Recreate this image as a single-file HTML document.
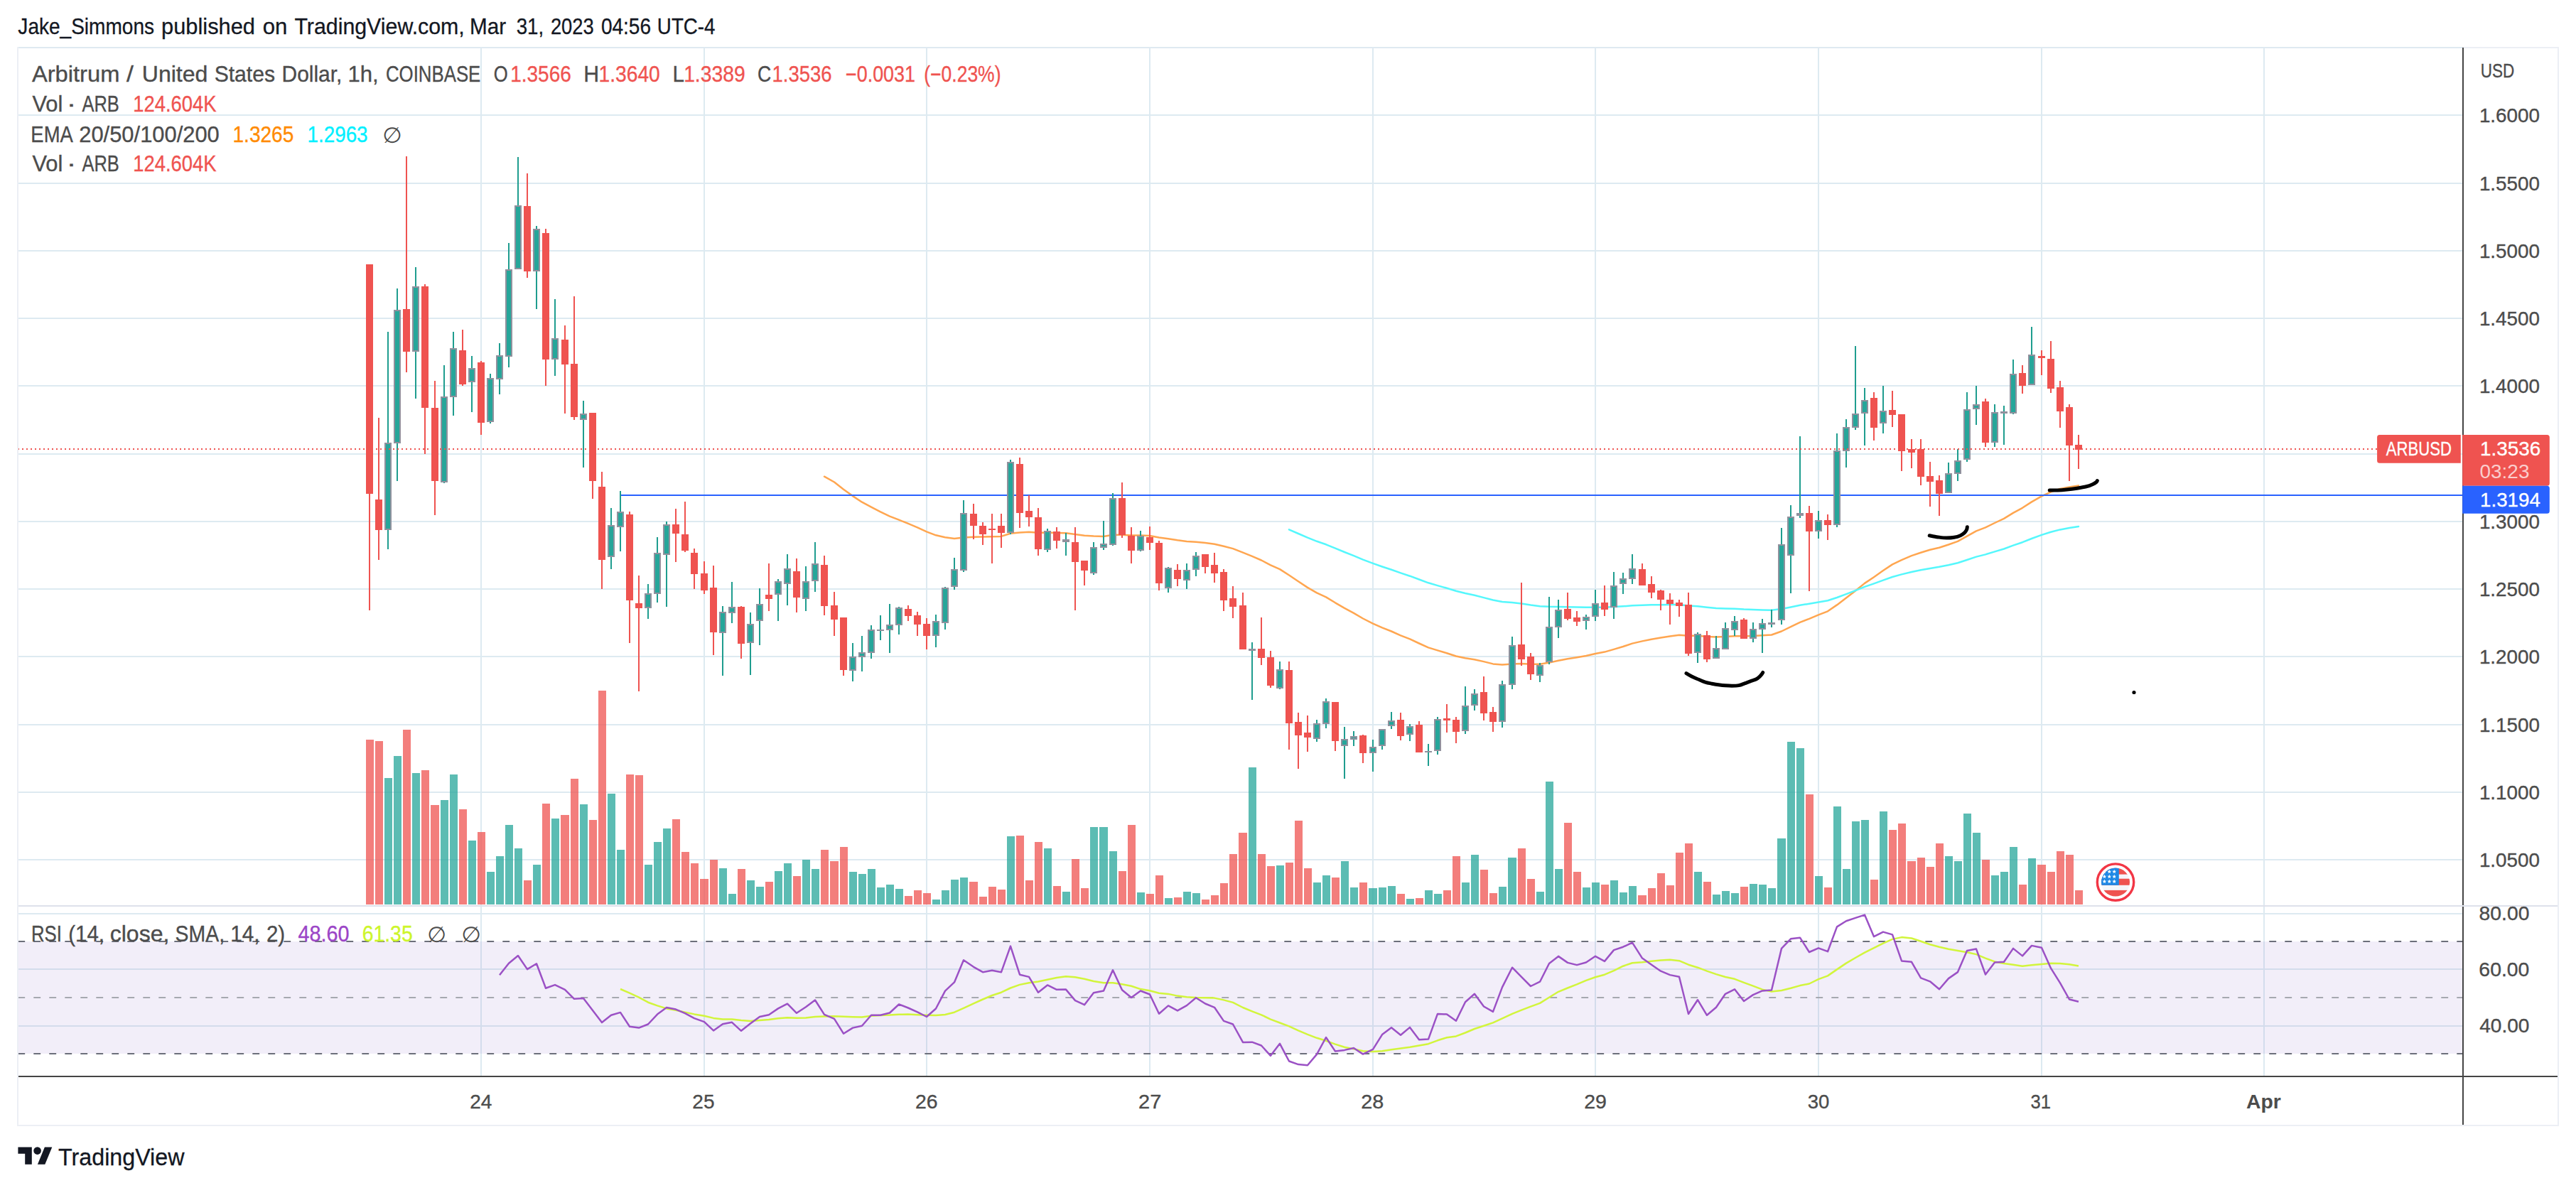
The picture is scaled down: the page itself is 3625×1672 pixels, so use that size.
<!DOCTYPE html>
<html lang="en"><head><meta charset="utf-8"><title>ARBUSD chart</title>
<style>html,body{margin:0;padding:0;background:#fff}body{width:3625px;height:1672px;overflow:hidden}svg{display:block}</style></head><body>
<svg width="3625" height="1672" viewBox="0 0 3625 1672" font-family="'Liberation Sans', 'DejaVu Sans', sans-serif">
<rect width="3625" height="1672" fill="#fff"/>
<rect x="26" y="1325" width="3439" height="158" fill="#f2eef9"/>
<path d="M26 162H3465M26 258H3465M26 353H3465M26 448H3465M26 543H3465M26 639H3465M26 734H3465M26 829H3465M26 924H3465M26 1020H3465M26 1115H3465M26 1210H3465M26 1364H3465M26 1444H3465M26 1286H3465M677 68V1514M991 68V1514M1304 68V1514M1618 68V1514M1932 68V1514M2245 68V1514M2559 68V1514M2873 68V1514M3186 68V1514" stroke="rgba(100,160,190,0.22)" stroke-width="2" fill="none" shape-rendering="crispEdges"/>
<path d="M541 1095H552V1273H541zM554 1064H565V1273H554zM580 1088H591V1273H580zM620 1126H631V1273H620zM633 1090H644V1273H633zM659 1183H670V1273H659zM685 1227H696V1273H685zM698 1205H709V1273H698zM711 1161H722V1273H711zM724 1194H735V1273H724zM750 1217H761V1273H750zM776 1152H787V1273H776zM816 1132H827V1273H816zM855 1117H866V1273H855zM868 1196H879V1273H868zM907 1217H918V1273H907zM920 1185H931V1273H920zM933 1166H944V1273H933zM1012 1222H1023V1273H1012zM1025 1258H1036V1273H1025zM1051 1239H1062V1273H1051zM1064 1248H1075V1273H1064zM1090 1226H1101V1273H1090zM1103 1215H1114V1273H1103zM1129 1210H1140V1273H1129zM1142 1223H1153V1273H1142zM1195 1227H1206V1273H1195zM1208 1230H1219V1273H1208zM1221 1223H1232V1273H1221zM1234 1249H1245V1273H1234zM1247 1245H1258V1273H1247zM1260 1251H1271V1273H1260zM1312 1266H1323V1273H1312zM1325 1253H1336V1273H1325zM1338 1238H1349V1273H1338zM1351 1235H1362V1273H1351zM1417 1177H1428V1273H1417zM1469 1194H1480V1273H1469zM1495 1255H1506V1273H1495zM1534 1164H1545V1273H1534zM1547 1164H1559V1273H1547zM1561 1198H1572V1273H1561zM1600 1256H1611V1273H1600zM1639 1264H1650V1273H1639zM1665 1255H1676V1273H1665zM1678 1257H1689V1273H1678zM1757 1080H1768V1273H1757zM1796 1218H1807V1273H1796zM1848 1242H1859V1273H1848zM1861 1232H1872V1273H1861zM1887 1212H1898V1273H1887zM1900 1249H1911V1273H1900zM1926 1250H1938V1273H1926zM1940 1249H1951V1273H1940zM1953 1247H1964V1273H1953zM1979 1265H1990V1273H1979zM2005 1253H2016V1273H2005zM2018 1258H2029V1273H2018zM2057 1242H2068V1273H2057zM2070 1203H2081V1273H2070zM2109 1248H2120V1273H2109zM2122 1207H2134V1273H2122zM2162 1255H2173V1273H2162zM2175 1100H2186V1273H2175zM2188 1223H2199V1273H2188zM2227 1249H2238V1273H2227zM2240 1242H2251V1273H2240zM2266 1239H2277V1273H2266zM2279 1256H2290V1273H2279zM2292 1247H2303V1273H2292zM2384 1227H2395V1273H2384zM2410 1259H2421V1273H2410zM2423 1254H2434V1273H2423zM2436 1257H2447V1273H2436zM2462 1244H2473V1273H2462zM2475 1245H2486V1273H2475zM2488 1250H2499V1273H2488zM2501 1180H2513V1273H2501zM2515 1044H2526V1273H2515zM2528 1053H2539V1273H2528zM2554 1233H2565V1273H2554zM2580 1135H2591V1273H2580zM2593 1223H2604V1273H2593zM2606 1156H2617V1273H2606zM2619 1154H2630V1273H2619zM2645 1142H2656V1273H2645zM2737 1205H2748V1273H2737zM2750 1212H2761V1273H2750zM2763 1145H2774V1273H2763zM2776 1172H2787V1273H2776zM2802 1232H2813V1273H2802zM2815 1227H2826V1273H2815zM2828 1192H2839V1273H2828zM2854 1208H2865V1273H2854z" fill="rgba(38,166,154,0.75)" shape-rendering="crispEdges"/>
<path d="M515 1041H526V1273H515zM528 1043H539V1273H528zM567 1027H578V1273H567zM593 1084H604V1273H593zM606 1133H618V1273H606zM646 1139H657V1273H646zM672 1171H683V1273H672zM737 1239H748V1273H737zM763 1131H774V1273H763zM789 1147H801V1273H789zM803 1096H814V1273H803zM829 1154H840V1273H829zM842 972H853V1273H842zM881 1090H892V1273H881zM894 1091H905V1273H894zM946 1153H957V1273H946zM959 1199H970V1273H959zM972 1215H983V1273H972zM985 1237H997V1273H985zM999 1210H1010V1273H999zM1038 1223H1049V1273H1038zM1077 1241H1088V1273H1077zM1116 1233H1127V1273H1116zM1155 1196H1166V1273H1155zM1168 1212H1180V1273H1168zM1182 1192H1193V1273H1182zM1273 1261H1284V1273H1273zM1286 1253H1297V1273H1286zM1299 1257H1310V1273H1299zM1364 1241H1376V1273H1364zM1378 1262H1389V1273H1378zM1391 1248H1402V1273H1391zM1404 1252H1415V1273H1404zM1430 1176H1441V1273H1430zM1443 1239H1454V1273H1443zM1456 1185H1467V1273H1456zM1482 1247H1493V1273H1482zM1508 1209H1519V1273H1508zM1521 1250H1532V1273H1521zM1574 1226H1585V1273H1574zM1587 1161H1598V1273H1587zM1613 1258H1624V1273H1613zM1626 1232H1637V1273H1626zM1652 1263H1663V1273H1652zM1691 1266H1702V1273H1691zM1704 1260H1715V1273H1704zM1717 1243H1728V1273H1717zM1730 1202H1741V1273H1730zM1743 1172H1755V1273H1743zM1770 1202H1781V1273H1770zM1783 1219H1794V1273H1783zM1809 1214H1820V1273H1809zM1822 1155H1833V1273H1822zM1835 1222H1846V1273H1835zM1874 1235H1885V1273H1874zM1913 1242H1924V1273H1913zM1966 1258H1977V1273H1966zM1992 1264H2003V1273H1992zM2031 1253H2042V1273H2031zM2044 1205H2055V1273H2044zM2083 1224H2094V1273H2083zM2096 1257H2107V1273H2096zM2136 1194H2147V1273H2136zM2149 1237H2160V1273H2149zM2201 1158H2212V1273H2201zM2214 1227H2225V1273H2214zM2253 1245H2264V1273H2253zM2305 1260H2317V1273H2305zM2319 1250H2330V1273H2319zM2332 1229H2343V1273H2332zM2345 1246H2356V1273H2345zM2358 1200H2369V1273H2358zM2371 1187H2382V1273H2371zM2397 1241H2408V1273H2397zM2449 1248H2460V1273H2449zM2541 1118H2552V1273H2541zM2567 1249H2578V1273H2567zM2632 1238H2643V1273H2632zM2658 1168H2669V1273H2658zM2671 1159H2682V1273H2671zM2684 1212H2696V1273H2684zM2698 1207H2709V1273H2698zM2711 1220H2722V1273H2711zM2724 1187H2735V1273H2724zM2789 1210H2800V1273H2789zM2841 1245H2852V1273H2841zM2867 1217H2879V1273H2867zM2881 1227H2892V1273H2881zM2894 1198H2905V1273H2894zM2907 1203H2918V1273H2907zM2920 1253H2931V1273H2920z" fill="rgba(239,83,80,0.75)" shape-rendering="crispEdges"/>
<path d="M1160.0 670.7L1174.0 678.5L1187.0 688.8L1200.0 698.1L1213.0 706.7L1226.0 713.7L1239.0 720.4L1252.0 726.6L1265.0 731.7L1278.0 736.9L1291.0 742.4L1304.0 748.4L1317.0 753.3L1330.0 756.2L1343.0 757.9L1356.0 756.5L1370.0 755.8L1383.0 755.6L1396.0 755.2L1409.0 754.9L1422.0 750.8L1435.0 749.6L1448.0 748.8L1461.0 749.7L1474.0 749.6L1487.0 750.0L1500.0 750.3L1513.0 751.9L1526.0 753.8L1539.0 754.5L1553.0 754.9L1566.0 752.7L1579.0 752.7L1592.0 753.5L1605.0 753.5L1618.0 753.9L1631.0 756.5L1644.0 758.2L1657.0 760.3L1670.0 761.9L1683.0 762.7L1696.0 764.1L1709.0 765.7L1722.0 768.8L1735.0 772.1L1749.0 777.6L1762.0 782.9L1775.0 788.5L1788.0 795.3L1801.0 801.1L1814.0 809.5L1827.0 818.3L1840.0 826.9L1853.0 834.4L1866.0 840.4L1879.0 848.3L1892.0 855.8L1905.0 862.8L1918.0 870.5L1932.0 877.6L1945.0 883.4L1958.0 888.5L1971.0 894.3L1984.0 899.3L1997.0 905.5L2010.0 911.4L2023.0 915.4L2036.0 919.2L2049.0 923.5L2062.0 926.2L2075.0 928.2L2088.0 931.1L2101.0 934.4L2114.0 935.5L2128.0 934.4L2141.0 934.1L2154.0 934.7L2167.0 934.7L2180.0 932.6L2193.0 929.7L2206.0 927.3L2219.0 925.2L2232.0 923.0L2245.0 920.0L2258.0 917.6L2271.0 913.9L2284.0 910.0L2297.0 905.6L2311.0 902.4L2324.0 899.7L2337.0 897.5L2350.0 895.6L2363.0 893.8L2376.0 894.8L2389.0 894.7L2402.0 896.0L2415.0 896.6L2428.0 896.1L2441.0 895.2L2454.0 895.3L2467.0 894.9L2480.0 894.2L2493.0 893.5L2507.0 888.5L2520.0 882.1L2533.0 875.8L2546.0 870.8L2559.0 865.3L2572.0 860.3L2585.0 851.4L2598.0 841.6L2611.0 831.4L2624.0 820.9L2637.0 812.2L2650.0 803.1L2663.0 794.4L2676.0 788.1L2690.0 782.1L2703.0 777.7L2716.0 773.8L2729.0 770.7L2742.0 766.5L2755.0 761.9L2768.0 754.6L2781.0 747.3L2794.0 742.4L2807.0 736.0L2820.0 729.9L2833.0 721.9L2846.0 714.8L2859.0 706.4L2873.0 698.4L2886.0 692.4L2899.0 687.9L2912.0 685.5L2925.0 683.4" stroke="#ffa650" stroke-width="2.5" fill="none" stroke-linecap="round" stroke-linejoin="round"/>
<path d="M1814.0 745.3L1827.0 751.0L1840.0 756.7L1853.0 761.8L1866.0 766.3L1879.0 771.7L1892.0 777.0L1905.0 782.2L1918.0 787.7L1932.0 792.9L1945.0 797.5L1958.0 801.8L1971.0 806.4L1984.0 810.7L1997.0 815.5L2010.0 820.3L2023.0 824.1L2036.0 827.8L2049.0 831.8L2062.0 835.0L2075.0 837.8L2088.0 841.1L2101.0 844.5L2114.0 846.9L2128.0 848.1L2141.0 849.6L2154.0 851.6L2167.0 853.2L2180.0 853.8L2193.0 853.9L2206.0 854.2L2219.0 854.6L2232.0 854.8L2245.0 854.7L2258.0 854.8L2271.0 854.1L2284.0 853.3L2297.0 852.3L2311.0 851.7L2324.0 851.3L2337.0 851.2L2350.0 851.1L2363.0 851.1L2376.0 852.5L2389.0 853.3L2402.0 854.7L2415.0 855.9L2428.0 856.4L2441.0 856.7L2454.0 857.6L2467.0 858.1L2480.0 858.5L2493.0 858.8L2507.0 857.0L2520.0 854.4L2533.0 851.8L2546.0 849.7L2559.0 847.4L2572.0 845.2L2585.0 841.0L2598.0 836.2L2611.0 831.2L2624.0 825.9L2637.0 821.4L2650.0 816.6L2663.0 812.0L2676.0 808.4L2690.0 805.0L2703.0 802.3L2716.0 799.9L2729.0 797.8L2742.0 795.2L2755.0 792.2L2768.0 788.0L2781.0 783.6L2794.0 780.4L2807.0 776.4L2820.0 772.5L2833.0 767.7L2846.0 763.2L2859.0 758.0L2873.0 752.9L2886.0 748.8L2899.0 745.4L2912.0 743.1L2925.0 740.9" stroke="#55f7fc" stroke-width="2.5" fill="none" stroke-linecap="round" stroke-linejoin="round"/>
<path d="M873 697H3466" stroke="#2962ff" stroke-width="2" shape-rendering="crispEdges"/>
<path d="M545 467h2V773h-2zM558 406h2V677h-2zM584 376h2V561h-2zM624 514h2V680h-2zM637 467h2V585h-2zM663 501h2V580h-2zM689 526h2V596h-2zM702 483h2V555h-2zM715 342h2V517h-2zM728 221h2V379h-2zM754 318h2V435h-2zM780 421h2V529h-2zM820 564h2V658h-2zM859 715h2V801h-2zM872 691h2V776h-2zM911 822h2V871h-2zM924 756h2V848h-2zM937 734h2V854h-2zM1016 853h2V951h-2zM1029 819h2V877h-2zM1055 862h2V950h-2zM1068 828h2V908h-2zM1094 815h2V874h-2zM1107 780h2V852h-2zM1133 797h2V860h-2zM1146 763h2V833h-2zM1199 905h2V959h-2zM1212 895h2V945h-2zM1225 880h2V927h-2zM1238 866h2V901h-2zM1251 850h2V919h-2zM1264 854h2V893h-2zM1316 865h2V911h-2zM1329 826h2V886h-2zM1342 785h2V830h-2zM1355 704h2V805h-2zM1421 647h2V752h-2zM1473 744h2V777h-2zM1499 750h2V782h-2zM1538 763h2V809h-2zM1552 733h2V774h-2zM1565 694h2V768h-2zM1604 747h2V776h-2zM1643 798h2V834h-2zM1669 793h2V829h-2zM1682 777h2V811h-2zM1761 904h2V985h-2zM1800 931h2V970h-2zM1852 1013h2V1044h-2zM1865 983h2V1025h-2zM1891 1023h2V1096h-2zM1904 1029h2V1050h-2zM1931 1041h2V1086h-2zM1944 1026h2V1055h-2zM1957 1002h2V1026h-2zM1983 1019h2V1043h-2zM2009 1047h2V1078h-2zM2022 1009h2V1062h-2zM2061 966h2V1033h-2zM2074 970h2V1000h-2zM2113 958h2V1024h-2zM2127 896h2V970h-2zM2166 933h2V960h-2zM2179 840h2V935h-2zM2192 844h2V898h-2zM2231 865h2V886h-2zM2244 830h2V874h-2zM2270 805h2V871h-2zM2283 806h2V836h-2zM2296 780h2V822h-2zM2388 890h2V933h-2zM2414 895h2V927h-2zM2427 876h2V914h-2zM2440 867h2V895h-2zM2466 876h2V904h-2zM2479 871h2V919h-2zM2492 858h2V883h-2zM2506 743h2V879h-2zM2519 711h2V835h-2zM2532 614h2V729h-2zM2558 719h2V758h-2zM2584 610h2V742h-2zM2597 590h2V658h-2zM2610 487h2V605h-2zM2623 546h2V627h-2zM2649 543h2V610h-2zM2741 651h2V694h-2zM2754 632h2V677h-2zM2767 552h2V650h-2zM2780 543h2V598h-2zM2806 569h2V629h-2zM2819 571h2V626h-2zM2832 506h2V583h-2zM2858 460h2V542h-2z" fill="#1f9d8f" shape-rendering="crispEdges"/>
<path d="M519 372h2V859h-2zM532 588h2V788h-2zM571 220h2V524h-2zM597 400h2V639h-2zM611 536h2V725h-2zM650 464h2V543h-2zM676 508h2V612h-2zM741 244h2V391h-2zM767 322h2V543h-2zM794 458h2V582h-2zM807 417h2V591h-2zM833 581h2V702h-2zM846 664h2V829h-2zM885 720h2V905h-2zM898 810h2V973h-2zM950 716h2V791h-2zM963 706h2V777h-2zM976 772h2V829h-2zM990 790h2V836h-2zM1003 796h2V922h-2zM1042 853h2V927h-2zM1081 793h2V860h-2zM1120 786h2V862h-2zM1159 782h2V866h-2zM1173 833h2V895h-2zM1186 869h2V951h-2zM1277 852h2V874h-2zM1290 861h2V895h-2zM1303 870h2V914h-2zM1369 709h2V759h-2zM1382 735h2V767h-2zM1395 723h2V793h-2zM1408 723h2V771h-2zM1434 644h2V743h-2zM1447 697h2V741h-2zM1460 715h2V782h-2zM1486 742h2V772h-2zM1512 742h2V859h-2zM1525 789h2V824h-2zM1578 679h2V757h-2zM1591 742h2V793h-2zM1617 741h2V774h-2zM1630 761h2V831h-2zM1656 794h2V825h-2zM1695 780h2V807h-2zM1708 778h2V820h-2zM1721 801h2V860h-2zM1734 825h2V870h-2zM1748 834h2V914h-2zM1774 869h2V936h-2zM1787 916h2V968h-2zM1813 931h2V1055h-2zM1826 1003h2V1082h-2zM1839 1007h2V1058h-2zM1878 988h2V1057h-2zM1917 1034h2V1074h-2zM1970 1003h2V1042h-2zM1996 1015h2V1059h-2zM2035 991h2V1031h-2zM2048 1009h2V1046h-2zM2087 952h2V1014h-2zM2100 995h2V1030h-2zM2140 820h2V937h-2zM2153 919h2V957h-2zM2205 834h2V873h-2zM2218 860h2V881h-2zM2257 824h2V867h-2zM2310 793h2V824h-2zM2323 811h2V842h-2zM2336 830h2V859h-2zM2349 835h2V879h-2zM2362 844h2V868h-2zM2375 834h2V923h-2zM2401 888h2V932h-2zM2453 870h2V899h-2zM2545 712h2V832h-2zM2571 724h2V760h-2zM2636 552h2V620h-2zM2662 550h2V601h-2zM2675 583h2V663h-2zM2689 618h2V659h-2zM2702 618h2V683h-2zM2715 650h2V713h-2zM2728 669h2V726h-2zM2793 561h2V629h-2zM2845 514h2V554h-2zM2872 493h2V528h-2zM2885 480h2V553h-2zM2898 536h2V602h-2zM2911 569h2V677h-2zM2924 612h2V660h-2z" fill="#ef5350" shape-rendering="crispEdges"/>
<path d="M515 372h10V695h-10zM528 703h10V746h-10zM567 435h10V495h-10zM593 403h10V574h-10zM607 574h10V677h-10zM646 493h10V541h-10zM672 510h10V595h-10zM737 290h10V382h-10zM763 328h10V506h-10zM790 478h10V513h-10zM803 512h10V587h-10zM829 581h10V677h-10zM842 685h10V788h-10zM881 724h10V845h-10zM894 849h10V856h-10zM946 738h10V751h-10zM959 752h10V775h-10zM972 778h10V808h-10zM986 807h10V831h-10zM999 827h10V890h-10zM1038 854h10V906h-10zM1077 837h10V843h-10zM1116 804h10V841h-10zM1155 795h10V853h-10zM1169 852h10V872h-10zM1182 869h10V943h-10zM1273 857h10V867h-10zM1286 866h10V879h-10zM1299 878h10V895h-10zM1365 723h10V740h-10zM1378 740h10V752h-10zM1391 744h10V746h-10zM1404 740h10V750h-10zM1430 653h10V722h-10zM1443 719h10V728h-10zM1456 728h10V773h-10zM1482 748h10V761h-10zM1508 763h10V791h-10zM1521 789h10V803h-10zM1574 701h10V753h-10zM1587 754h10V775h-10zM1613 756h10V764h-10zM1626 764h10V821h-10zM1652 802h10V815h-10zM1691 780h10V798h-10zM1704 795h10V807h-10zM1717 805h10V845h-10zM1730 842h10V854h-10zM1744 852h10V914h-10zM1770 913h10V926h-10zM1783 925h10V965h-10zM1809 943h10V1018h-10zM1822 1016h10V1035h-10zM1835 1031h10V1038h-10zM1874 988h10V1043h-10zM1913 1035h10V1060h-10zM1966 1013h10V1036h-10zM1992 1020h10V1059h-10zM2031 1011h10V1014h-10zM2044 1013h10V1030h-10zM2083 974h10V1004h-10zM2096 1002h10V1016h-10zM2136 907h10V928h-10zM2149 924h10V949h-10zM2201 857h10V871h-10zM2214 869h10V875h-10zM2253 848h10V858h-10zM2306 801h10V824h-10zM2319 822h10V834h-10zM2332 831h10V844h-10zM2345 844h10V850h-10zM2358 848h10V853h-10zM2371 851h10V920h-10zM2397 894h10V928h-10zM2449 872h10V899h-10zM2541 722h10V748h-10zM2567 732h10V739h-10zM2632 560h10V602h-10zM2658 577h10V584h-10zM2671 583h10V635h-10zM2685 632h10V637h-10zM2698 632h10V671h-10zM2711 670h10V678h-10zM2724 676h10V695h-10zM2789 565h10V623h-10zM2841 525h10V543h-10zM2868 501h10V504h-10zM2881 505h10V547h-10zM2894 545h10V579h-10zM2907 573h10V627h-10zM2920 626h10V633h-10z" fill="#ef5350" shape-rendering="crispEdges"/>
<path d="M541 623h10V746h-10zM554 436h10V624h-10zM580 403h10V495h-10zM620 558h10V679h-10zM633 490h10V559h-10zM659 518h10V538h-10zM685 532h10V594h-10zM698 500h10V534h-10zM711 379h10V502h-10zM724 289h10V379h-10zM750 322h10V382h-10zM776 476h10V506h-10zM816 582h10V591h-10zM855 739h10V784h-10zM868 720h10V742h-10zM907 835h10V856h-10zM920 778h10V836h-10zM933 738h10V781h-10zM1012 861h10V891h-10zM1025 854h10V863h-10zM1051 878h10V905h-10zM1064 850h10V874h-10zM1090 818h10V837h-10zM1103 800h10V822h-10zM1129 818h10V843h-10zM1142 793h10V818h-10zM1195 924h10V944h-10zM1208 918h10V925h-10zM1221 886h10V919h-10zM1234 886h10V888h-10zM1247 879h10V887h-10zM1260 855h10V880h-10zM1312 874h10V895h-10zM1325 827h10V877h-10zM1338 801h10V826h-10zM1351 722h10V803h-10zM1417 650h10V750h-10zM1469 747h10V774h-10zM1495 759h10V763h-10zM1534 770h10V807h-10zM1548 765h10V771h-10zM1561 701h10V767h-10zM1600 754h10V775h-10zM1639 799h10V828h-10zM1665 802h10V817h-10zM1678 782h10V802h-10zM1757 913h10V916h-10zM1796 942h10V969h-10zM1848 1018h10V1040h-10zM1861 987h10V1019h-10zM1887 1040h10V1050h-10zM1900 1036h10V1041h-10zM1927 1051h10V1060h-10zM1940 1026h10V1050h-10zM1953 1014h10V1022h-10zM1979 1022h10V1034h-10zM2005 1057h10V1059h-10zM2018 1012h10V1057h-10zM2057 993h10V1029h-10zM2070 976h10V993h-10zM2109 963h10V1016h-10zM2123 908h10V964h-10zM2162 936h10V951h-10zM2175 882h10V932h-10zM2188 858h10V883h-10zM2227 868h10V874h-10zM2240 849h10V868h-10zM2266 824h10V855h-10zM2279 814h10V822h-10zM2292 800h10V815h-10zM2384 892h10V919h-10zM2410 912h10V927h-10zM2423 884h10V914h-10zM2436 874h10V887h-10zM2462 885h10V899h-10zM2475 877h10V886h-10zM2488 876h10V879h-10zM2502 766h10V873h-10zM2515 727h10V782h-10zM2528 722h10V726h-10zM2554 732h10V748h-10zM2580 634h10V739h-10zM2593 601h10V635h-10zM2606 582h10V602h-10zM2619 563h10V582h-10zM2645 578h10V596h-10zM2737 666h10V694h-10zM2750 648h10V667h-10zM2763 576h10V647h-10zM2776 569h10V576h-10zM2802 580h10V623h-10zM2815 579h10V582h-10zM2828 526h10V582h-10zM2854 499h10V542h-10z" fill="#90919d" shape-rendering="crispEdges"/>
<path d="M543 625h6V744h-6zM556 438h6V622h-6zM582 405h6V493h-6zM622 560h6V677h-6zM635 492h6V557h-6zM661 520h6V536h-6zM687 534h6V592h-6zM700 502h6V532h-6zM713 381h6V500h-6zM726 291h6V377h-6zM752 324h6V380h-6zM778 478h6V504h-6zM818 584h6V589h-6zM857 741h6V782h-6zM870 722h6V740h-6zM909 837h6V854h-6zM922 780h6V834h-6zM935 740h6V779h-6zM1014 863h6V889h-6zM1027 856h6V861h-6zM1053 880h6V903h-6zM1066 852h6V872h-6zM1092 820h6V835h-6zM1105 802h6V820h-6zM1131 820h6V841h-6zM1144 795h6V816h-6zM1197 926h6V942h-6zM1210 920h6V923h-6zM1223 888h6V917h-6zM1249 881h6V885h-6zM1262 857h6V878h-6zM1314 876h6V893h-6zM1327 829h6V875h-6zM1340 803h6V824h-6zM1353 724h6V801h-6zM1419 652h6V748h-6zM1471 749h6V772h-6zM1536 772h6V805h-6zM1550 767h6V769h-6zM1563 703h6V765h-6zM1602 756h6V773h-6zM1641 801h6V826h-6zM1667 804h6V815h-6zM1680 784h6V800h-6zM1798 944h6V967h-6zM1850 1020h6V1038h-6zM1863 989h6V1017h-6zM1889 1042h6V1048h-6zM1902 1038h6V1039h-6zM1929 1053h6V1058h-6zM1942 1028h6V1048h-6zM1955 1016h6V1020h-6zM1981 1024h6V1032h-6zM2020 1014h6V1055h-6zM2059 995h6V1027h-6zM2072 978h6V991h-6zM2111 965h6V1014h-6zM2125 910h6V962h-6zM2164 938h6V949h-6zM2177 884h6V930h-6zM2190 860h6V881h-6zM2229 870h6V872h-6zM2242 851h6V866h-6zM2268 826h6V853h-6zM2281 816h6V820h-6zM2294 802h6V813h-6zM2386 894h6V917h-6zM2412 914h6V925h-6zM2425 886h6V912h-6zM2438 876h6V885h-6zM2464 887h6V897h-6zM2477 879h6V884h-6zM2504 768h6V871h-6zM2517 729h6V780h-6zM2556 734h6V746h-6zM2582 636h6V737h-6zM2595 603h6V633h-6zM2608 584h6V600h-6zM2621 565h6V580h-6zM2647 580h6V594h-6zM2739 668h6V692h-6zM2752 650h6V665h-6zM2765 578h6V645h-6zM2778 571h6V574h-6zM2804 582h6V621h-6zM2830 528h6V580h-6zM2856 501h6V540h-6z" fill="#26a69a" shape-rendering="crispEdges"/>
<path d="M25 632H3345" stroke="#ef5350" stroke-width="2" stroke-dasharray="2 4" fill="none" shape-rendering="crispEdges"/>
<path d="M2373.0 947.6C2374.3 948.4 2378.2 950.8 2381.1 952.3C2384.0 953.8 2387.3 955.0 2390.4 956.3C2393.5 957.6 2396.6 959.1 2399.7 960.1C2402.8 961.1 2405.9 961.6 2409.0 962.2C2412.1 962.8 2415.2 963.4 2418.3 963.8C2421.4 964.2 2424.5 964.6 2427.6 964.8C2430.7 965.0 2433.8 965.2 2437.0 965.2C2440.2 965.2 2443.8 965.2 2446.9 964.6C2450.0 964.0 2452.6 962.7 2455.6 961.6C2458.6 960.5 2462.3 959.1 2464.9 958.2C2467.5 957.3 2469.2 957.0 2471.1 956.0C2473.0 955.0 2474.8 953.5 2476.1 952.3C2477.4 951.1 2478.4 949.9 2479.2 948.9C2480.0 947.9 2480.4 946.8 2480.7 946.4" stroke="#000" stroke-width="5" fill="none" stroke-linecap="round" stroke-linejoin="round"/>
<path d="M2715.2 753.7C2717.2 754.1 2723.2 755.4 2727.2 755.9C2731.2 756.4 2735.3 757.0 2739.1 757.0C2742.9 757.0 2746.7 756.8 2750.0 756.2C2753.3 755.7 2756.2 754.8 2758.7 753.7C2761.1 752.6 2763.2 751.1 2764.7 749.7C2766.2 748.3 2767.0 746.6 2767.6 745.3C2768.2 744.0 2768.2 742.3 2768.3 741.7" stroke="#000" stroke-width="5" fill="none" stroke-linecap="round" stroke-linejoin="round"/>
<path d="M2884.2 689.9C2886.1 689.9 2891.6 690.2 2895.7 690.1C2899.8 690.0 2904.2 689.6 2908.7 689.1C2913.2 688.6 2918.3 687.9 2922.8 687.2C2927.3 686.5 2932.3 685.7 2935.9 684.8C2939.5 683.9 2942.2 682.8 2944.6 681.7C2946.9 680.7 2948.9 679.4 2950.0 678.5C2951.1 677.6 2951.1 676.9 2951.3 676.6" stroke="#000" stroke-width="5" fill="none" stroke-linecap="round" stroke-linejoin="round"/>
<circle cx="3003" cy="974.5" r="2.6" fill="#000"/>
<path d="M25.3 1325H3465" stroke="#6c6f7b" stroke-width="2" stroke-dasharray="9.85 12.15" fill="none"/>
<path d="M25.3 1483H3465" stroke="#6c6f7b" stroke-width="2" stroke-dasharray="9.85 12.15" fill="none"/>
<path d="M25.3 1404H3465" stroke="#a6a8b0" stroke-width="2" stroke-dasharray="9.85 12.15" fill="none"/>
<path d="M873.0 1392.0L886.0 1397.7L899.0 1403.6L912.0 1410.7L925.0 1415.4L938.0 1419.4L951.0 1421.7L964.0 1424.6L977.0 1427.4L991.0 1429.8L1004.0 1432.9L1017.0 1434.4L1030.0 1434.5L1043.0 1436.1L1056.0 1437.1L1069.0 1436.1L1082.0 1434.9L1095.0 1433.3L1108.0 1432.3L1121.0 1432.8L1134.0 1432.5L1147.0 1431.1L1160.0 1430.6L1174.0 1430.3L1187.0 1430.7L1200.0 1431.2L1213.0 1431.6L1226.0 1429.7L1239.0 1429.1L1252.0 1428.6L1265.0 1427.7L1278.0 1427.6L1291.0 1428.3L1304.0 1428.8L1317.0 1429.1L1330.0 1428.0L1343.0 1424.7L1356.0 1418.9L1370.0 1412.4L1383.0 1406.5L1396.0 1401.0L1409.0 1396.7L1422.0 1390.5L1435.0 1385.9L1448.0 1383.2L1461.0 1381.5L1474.0 1378.7L1487.0 1376.0L1500.0 1374.2L1513.0 1375.2L1526.0 1377.7L1539.0 1381.0L1553.0 1383.3L1566.0 1383.2L1579.0 1385.3L1592.0 1387.7L1605.0 1392.1L1618.0 1394.3L1631.0 1397.7L1644.0 1398.9L1657.0 1401.6L1670.0 1403.2L1683.0 1404.0L1696.0 1404.3L1709.0 1404.6L1722.0 1407.4L1735.0 1410.9L1749.0 1418.0L1762.0 1423.3L1775.0 1428.3L1788.0 1434.6L1801.0 1439.5L1814.0 1444.3L1827.0 1450.3L1840.0 1455.9L1853.0 1460.8L1866.0 1464.8L1879.0 1469.6L1892.0 1473.7L1905.0 1476.4L1918.0 1479.3L1932.0 1480.1L1945.0 1479.3L1958.0 1477.3L1971.0 1475.4L1984.0 1473.8L1997.0 1471.6L2010.0 1469.2L2023.0 1464.3L2036.0 1460.3L2049.0 1458.4L2062.0 1453.5L2075.0 1448.0L2088.0 1443.8L2101.0 1439.4L2114.0 1433.4L2128.0 1426.8L2141.0 1421.7L2154.0 1416.7L2167.0 1411.9L2180.0 1403.7L2193.0 1395.8L2206.0 1390.5L2219.0 1385.4L2232.0 1379.9L2245.0 1375.2L2258.0 1371.7L2271.0 1366.2L2284.0 1359.7L2297.0 1355.2L2311.0 1354.2L2324.0 1352.8L2337.0 1351.4L2350.0 1350.8L2363.0 1352.2L2376.0 1357.7L2389.0 1361.7L2402.0 1366.6L2415.0 1371.1L2428.0 1375.0L2441.0 1377.8L2454.0 1382.9L2467.0 1387.7L2480.0 1392.6L2493.0 1395.5L2507.0 1394.0L2520.0 1390.8L2533.0 1387.1L2546.0 1384.5L2559.0 1378.2L2572.0 1373.4L2585.0 1364.4L2598.0 1355.6L2611.0 1348.0L2624.0 1340.7L2637.0 1334.1L2650.0 1327.6L2663.0 1321.9L2676.0 1319.1L2690.0 1320.5L2703.0 1324.7L2716.0 1329.2L2729.0 1332.7L2742.0 1335.8L2755.0 1337.9L2768.0 1340.3L2781.0 1343.1L2794.0 1348.6L2807.0 1353.4L2820.0 1355.9L2833.0 1357.8L2846.0 1359.8L2859.0 1358.3L2873.0 1356.9L2886.0 1355.8L2899.0 1356.1L2912.0 1357.2L2925.0 1359.4" stroke="#d2f53c" stroke-width="2.5" fill="none" stroke-linejoin="round"/>
<path d="M703.0 1372.3L716.0 1355.8L729.0 1345.0L742.0 1364.1L755.0 1356.3L768.0 1390.7L781.0 1386.1L795.0 1392.9L808.0 1405.8L821.0 1405.0L834.0 1421.9L847.0 1439.1L860.0 1428.7L873.0 1424.9L886.0 1444.8L899.0 1446.6L912.0 1441.5L925.0 1427.6L938.0 1418.1L951.0 1420.6L964.0 1426.1L977.0 1433.1L991.0 1438.1L1004.0 1450.4L1017.0 1441.2L1030.0 1438.8L1043.0 1450.8L1056.0 1440.6L1069.0 1431.0L1082.0 1428.2L1095.0 1419.4L1108.0 1412.7L1121.0 1425.8L1134.0 1417.3L1147.0 1407.5L1160.0 1427.8L1174.0 1433.8L1187.0 1454.7L1200.0 1446.6L1213.0 1443.7L1226.0 1428.7L1239.0 1428.8L1252.0 1425.5L1265.0 1413.5L1278.0 1418.5L1291.0 1424.4L1304.0 1431.0L1317.0 1419.5L1330.0 1394.6L1343.0 1382.4L1356.0 1351.3L1370.0 1360.8L1383.0 1368.2L1396.0 1365.7L1409.0 1368.2L1422.0 1331.6L1435.0 1371.7L1448.0 1374.9L1461.0 1396.8L1474.0 1386.4L1487.0 1392.8L1500.0 1392.6L1513.0 1408.1L1526.0 1414.2L1539.0 1397.2L1553.0 1394.6L1566.0 1365.3L1579.0 1393.3L1592.0 1404.0L1605.0 1394.5L1618.0 1399.5L1631.0 1426.7L1644.0 1415.4L1657.0 1422.4L1670.0 1415.1L1683.0 1404.3L1696.0 1412.5L1709.0 1417.8L1722.0 1436.9L1735.0 1441.5L1749.0 1466.9L1762.0 1466.7L1775.0 1471.5L1788.0 1485.8L1801.0 1468.8L1814.0 1493.5L1827.0 1498.1L1840.0 1499.2L1853.0 1483.9L1866.0 1460.0L1879.0 1479.6L1892.0 1477.9L1905.0 1475.0L1918.0 1483.6L1932.0 1476.8L1945.0 1456.1L1958.0 1446.3L1971.0 1456.8L1984.0 1445.9L1997.0 1463.2L2010.0 1462.6L2023.0 1426.9L2036.0 1427.5L2049.0 1436.7L2062.0 1410.2L2075.0 1398.8L2088.0 1416.5L2101.0 1423.9L2114.0 1389.4L2128.0 1361.7L2141.0 1374.8L2154.0 1388.0L2167.0 1381.7L2180.0 1356.0L2193.0 1345.9L2206.0 1354.9L2219.0 1358.1L2232.0 1354.5L2245.0 1345.8L2258.0 1352.9L2271.0 1337.1L2284.0 1332.7L2297.0 1326.6L2311.0 1348.6L2324.0 1357.8L2337.0 1366.7L2350.0 1372.1L2363.0 1374.8L2376.0 1427.0L2389.0 1407.2L2402.0 1428.8L2415.0 1417.8L2428.0 1398.8L2441.0 1392.3L2454.0 1409.0L2467.0 1400.1L2480.0 1394.4L2493.0 1393.5L2507.0 1334.9L2520.0 1321.3L2533.0 1319.7L2546.0 1340.0L2559.0 1334.3L2572.0 1339.2L2585.0 1304.4L2598.0 1296.3L2611.0 1291.9L2624.0 1287.6L2637.0 1318.2L2650.0 1311.6L2663.0 1315.4L2676.0 1352.4L2690.0 1353.8L2703.0 1376.4L2716.0 1381.3L2729.0 1392.2L2742.0 1377.1L2755.0 1368.1L2768.0 1338.1L2781.0 1335.6L2794.0 1371.5L2807.0 1354.4L2820.0 1353.7L2833.0 1334.9L2846.0 1345.4L2859.0 1330.9L2873.0 1333.8L2886.0 1362.7L2899.0 1383.3L2912.0 1406.5L2925.0 1409.7" stroke="#9b51c5" stroke-width="2.5" fill="none" stroke-linejoin="round"/>
<g><circle cx="2977" cy="1241.6" r="25.7" fill="#fff" stroke="#f23645" stroke-width="3.4"/><clipPath id="fc"><circle cx="2977" cy="1241.6" r="20"/></clipPath><g clip-path="url(#fc)"><rect x="2956" y="1220.6" width="42" height="42" fill="#f5f6fa"/><rect x="2956" y="1221.3999999999999" width="42" height="9.2" fill="#ef5350"/><rect x="2956" y="1236.6999999999998" width="42" height="9.1" fill="#ef5350"/><rect x="2956" y="1252.8999999999999" width="42" height="10" fill="#ef5350"/><rect x="2956" y="1220.6" width="25.8" height="25.2" fill="#1e88e5"/>
<polygon points="2961.40,1223.70 2962.17,1225.75 2964.35,1225.84 2962.64,1227.20 2963.22,1229.31 2961.40,1228.10 2959.58,1229.31 2960.16,1227.20 2958.45,1225.84 2960.63,1225.75" fill="#fff"/>
<polygon points="2968.30,1223.70 2969.07,1225.75 2971.25,1225.84 2969.54,1227.20 2970.12,1229.31 2968.30,1228.10 2966.48,1229.31 2967.06,1227.20 2965.35,1225.84 2967.53,1225.75" fill="#fff"/>
<polygon points="2975.20,1223.70 2975.97,1225.75 2978.15,1225.84 2976.44,1227.20 2977.02,1229.31 2975.20,1228.10 2973.38,1229.31 2973.96,1227.20 2972.25,1225.84 2974.43,1225.75" fill="#fff"/>
<polygon points="2961.40,1230.60 2962.17,1232.65 2964.35,1232.74 2962.64,1234.10 2963.22,1236.21 2961.40,1235.00 2959.58,1236.21 2960.16,1234.10 2958.45,1232.74 2960.63,1232.65" fill="#fff"/>
<polygon points="2968.30,1230.60 2969.07,1232.65 2971.25,1232.74 2969.54,1234.10 2970.12,1236.21 2968.30,1235.00 2966.48,1236.21 2967.06,1234.10 2965.35,1232.74 2967.53,1232.65" fill="#fff"/>
<polygon points="2975.20,1230.60 2975.97,1232.65 2978.15,1232.74 2976.44,1234.10 2977.02,1236.21 2975.20,1235.00 2973.38,1236.21 2973.96,1234.10 2972.25,1232.74 2974.43,1232.65" fill="#fff"/>
<polygon points="2961.40,1237.50 2962.17,1239.55 2964.35,1239.64 2962.64,1241.00 2963.22,1243.11 2961.40,1241.90 2959.58,1243.11 2960.16,1241.00 2958.45,1239.64 2960.63,1239.55" fill="#fff"/>
<polygon points="2968.30,1237.50 2969.07,1239.55 2971.25,1239.64 2969.54,1241.00 2970.12,1243.11 2968.30,1241.90 2966.48,1243.11 2967.06,1241.00 2965.35,1239.64 2967.53,1239.55" fill="#fff"/>
<polygon points="2975.20,1237.50 2975.97,1239.55 2978.15,1239.64 2976.44,1241.00 2977.02,1243.11 2975.20,1241.90 2973.38,1243.11 2973.96,1241.00 2972.25,1239.64 2974.43,1239.55" fill="#fff"/>
</g></g>
<path d="M25 67H3600M25 1584H3600M25 66V1585M3600 66V1585" stroke="#eceff5" stroke-width="2" fill="none" shape-rendering="crispEdges"/>
<path d="M26 67H3465" stroke="#dfe9f1" stroke-width="2" fill="none" shape-rendering="crispEdges"/>
<path d="M26 1275H3599" stroke="#dee1eb" stroke-width="2" fill="none" shape-rendering="crispEdges"/>
<path d="M3466 67V1274M3466 1276V1583" stroke="#444444" stroke-width="2" fill="none" shape-rendering="crispEdges"/>
<path d="M26 1515H3599" stroke="#444444" stroke-width="2" fill="none" shape-rendering="crispEdges"/>
<text x="3488.88" y="171.9" font-size="27.4" fill="#4c4c4c" textLength="85.21" lengthAdjust="spacingAndGlyphs" stroke="#4c4c4c" stroke-width="0.35">1.6000</text>
<text x="3488.88" y="267.9" font-size="27.4" fill="#4c4c4c" textLength="85.21" lengthAdjust="spacingAndGlyphs" stroke="#4c4c4c" stroke-width="0.35">1.5500</text>
<text x="3488.88" y="362.9" font-size="27.4" fill="#4c4c4c" textLength="85.21" lengthAdjust="spacingAndGlyphs" stroke="#4c4c4c" stroke-width="0.35">1.5000</text>
<text x="3488.88" y="457.9" font-size="27.4" fill="#4c4c4c" textLength="85.21" lengthAdjust="spacingAndGlyphs" stroke="#4c4c4c" stroke-width="0.35">1.4500</text>
<text x="3488.88" y="552.9" font-size="27.4" fill="#4c4c4c" textLength="85.21" lengthAdjust="spacingAndGlyphs" stroke="#4c4c4c" stroke-width="0.35">1.4000</text>
<text x="3488.88" y="743.9" font-size="27.4" fill="#4c4c4c" textLength="85.21" lengthAdjust="spacingAndGlyphs" stroke="#4c4c4c" stroke-width="0.35">1.3000</text>
<text x="3488.88" y="838.9" font-size="27.4" fill="#4c4c4c" textLength="85.21" lengthAdjust="spacingAndGlyphs" stroke="#4c4c4c" stroke-width="0.35">1.2500</text>
<text x="3488.88" y="933.9" font-size="27.4" fill="#4c4c4c" textLength="85.21" lengthAdjust="spacingAndGlyphs" stroke="#4c4c4c" stroke-width="0.35">1.2000</text>
<text x="3488.88" y="1029.9" font-size="27.4" fill="#4c4c4c" textLength="85.21" lengthAdjust="spacingAndGlyphs" stroke="#4c4c4c" stroke-width="0.35">1.1500</text>
<text x="3488.88" y="1124.9" font-size="27.4" fill="#4c4c4c" textLength="85.21" lengthAdjust="spacingAndGlyphs" stroke="#4c4c4c" stroke-width="0.35">1.1000</text>
<text x="3488.88" y="1219.9" font-size="27.4" fill="#4c4c4c" textLength="85.21" lengthAdjust="spacingAndGlyphs" stroke="#4c4c4c" stroke-width="0.35">1.0500</text>
<text x="3488.57" y="1294.9" font-size="27.4" fill="#4c4c4c" textLength="70.84" lengthAdjust="spacingAndGlyphs" stroke="#4c4c4c" stroke-width="0.35">80.00</text>
<text x="3488.36" y="1373.7" font-size="27.4" fill="#4c4c4c" textLength="71.05" lengthAdjust="spacingAndGlyphs" stroke="#4c4c4c" stroke-width="0.35">60.00</text>
<text x="3489.16" y="1452.9" font-size="27.4" fill="#4c4c4c" textLength="70.24" lengthAdjust="spacingAndGlyphs" stroke="#4c4c4c" stroke-width="0.35">40.00</text>
<text x="3490.76" y="108.8" font-size="28" fill="#4c4c4c" textLength="47.51" lengthAdjust="spacingAndGlyphs" stroke="#4c4c4c" stroke-width="0.35">USD</text>
<text x="661.19" y="1559.6" font-size="27.4" fill="#4c4c4c" textLength="31.13" lengthAdjust="spacingAndGlyphs" stroke="#4c4c4c" stroke-width="0.35">24</text>
<text x="974.39" y="1559.6" font-size="27.4" fill="#4c4c4c" textLength="31.19" lengthAdjust="spacingAndGlyphs" stroke="#4c4c4c" stroke-width="0.35">25</text>
<text x="1288.07" y="1559.6" font-size="27.4" fill="#4c4c4c" textLength="31.58" lengthAdjust="spacingAndGlyphs" stroke="#4c4c4c" stroke-width="0.35">26</text>
<text x="1602.04" y="1559.6" font-size="27.4" fill="#4c4c4c" textLength="32.21" lengthAdjust="spacingAndGlyphs" stroke="#4c4c4c" stroke-width="0.35">27</text>
<text x="1915.15" y="1559.6" font-size="27.4" fill="#4c4c4c" textLength="32.00" lengthAdjust="spacingAndGlyphs" stroke="#4c4c4c" stroke-width="0.35">28</text>
<text x="2229.27" y="1559.6" font-size="27.4" fill="#4c4c4c" textLength="31.68" lengthAdjust="spacingAndGlyphs" stroke="#4c4c4c" stroke-width="0.35">29</text>
<text x="2543.75" y="1559.6" font-size="27.4" fill="#4c4c4c" textLength="30.62" lengthAdjust="spacingAndGlyphs" stroke="#4c4c4c" stroke-width="0.35">30</text>
<text x="2857.43" y="1559.6" font-size="27.4" fill="#4c4c4c" textLength="28.42" lengthAdjust="spacingAndGlyphs" stroke="#4c4c4c" stroke-width="0.35">31</text>
<text x="3160.99" y="1559.6" font-size="27.4" fill="#4c4c4c" textLength="48.84" lengthAdjust="spacingAndGlyphs" font-weight="bold">Apr</text>
<path d="M3348.6 612.1H3462.8V651.8H3348.6a3.5 3.5 0 0 1-3.5-3.5V615.6a3.5 3.5 0 0 1 3.5-3.5z" fill="#ef5350"/>
<path d="M3465.2 612.1H3584.3a3.5 3.5 0 0 1 3.5 3.5V680.2a3.5 3.5 0 0 1-3.5 3.5H3465.2z" fill="#ef5350"/>
<path d="M3465.2 683.7H3584.3a3.5 3.5 0 0 1 3.5 3.5V719.3a3.5 3.5 0 0 1-3.5 3.5H3465.2z" fill="#2962ff"/>
<text x="3357.76" y="641.4" font-size="27.8" fill="#fff" textLength="92.10" lengthAdjust="spacingAndGlyphs" stroke="#fff" stroke-width="0.35">ARBUSD</text>
<text x="3490.08" y="641.4" font-size="27.4" fill="#fff" textLength="85.14" lengthAdjust="spacingAndGlyphs" stroke="#fff" stroke-width="0.35">1.3536</text>
<text x="3489.51" y="673.1" font-size="27.4" fill="#fff" textLength="69.92" lengthAdjust="spacingAndGlyphs" fill-opacity="0.72">03:23</text>
<text x="3490.09" y="712.6" font-size="27.4" fill="#fff" textLength="84.72" lengthAdjust="spacingAndGlyphs" stroke="#fff" stroke-width="0.35">1.3194</text>
<text x="44.94" y="115.4" font-size="30.5" fill="#4c4c4c" textLength="123.42" lengthAdjust="spacingAndGlyphs" stroke="#4c4c4c" stroke-width="0.35">Arbitrum</text>
<text x="178.00" y="115.4" font-size="30.5" fill="#4c4c4c" textLength="9.90" lengthAdjust="spacingAndGlyphs" stroke="#4c4c4c" stroke-width="0.35">/</text>
<text x="199.72" y="115.4" font-size="30.5" fill="#4c4c4c" textLength="92.74" lengthAdjust="spacingAndGlyphs" stroke="#4c4c4c" stroke-width="0.35">United</text>
<text x="301.63" y="115.4" font-size="30.5" fill="#4c4c4c" textLength="85.36" lengthAdjust="spacingAndGlyphs" stroke="#4c4c4c" stroke-width="0.35">States</text>
<text x="396.49" y="115.4" font-size="30.5" fill="#4c4c4c" textLength="84.95" lengthAdjust="spacingAndGlyphs" stroke="#4c4c4c" stroke-width="0.35">Dollar,</text>
<text x="489.43" y="115.4" font-size="30.5" fill="#4c4c4c" textLength="43.27" lengthAdjust="spacingAndGlyphs" stroke="#4c4c4c" stroke-width="0.35">1h,</text>
<text x="542.99" y="115.4" font-size="30.5" fill="#4c4c4c" textLength="133.32" lengthAdjust="spacingAndGlyphs" stroke="#4c4c4c" stroke-width="0.35">COINBASE</text>
<text x="694.79" y="115.4" font-size="30.5" fill="#4c4c4c" textLength="19.94" lengthAdjust="spacingAndGlyphs" stroke="#4c4c4c" stroke-width="0.35">O</text>
<text x="718.27" y="115.4" font-size="30.5" fill="#ef5350" textLength="85.46" lengthAdjust="spacingAndGlyphs" stroke="#ef5350" stroke-width="0.35">1.3566</text>
<text x="821.22" y="115.4" font-size="30.5" fill="#4c4c4c" textLength="21.85" lengthAdjust="spacingAndGlyphs" stroke="#4c4c4c" stroke-width="0.35">H</text>
<text x="842.55" y="115.4" font-size="30.5" fill="#ef5350" textLength="86.25" lengthAdjust="spacingAndGlyphs" stroke="#ef5350" stroke-width="0.35">1.3640</text>
<text x="946.58" y="115.4" font-size="30.5" fill="#4c4c4c" textLength="16.40" lengthAdjust="spacingAndGlyphs" stroke="#4c4c4c" stroke-width="0.35">L</text>
<text x="962.15" y="115.4" font-size="30.5" fill="#ef5350" textLength="86.49" lengthAdjust="spacingAndGlyphs" stroke="#ef5350" stroke-width="0.35">1.3389</text>
<text x="1066.04" y="115.4" font-size="30.5" fill="#4c4c4c" textLength="19.27" lengthAdjust="spacingAndGlyphs" stroke="#4c4c4c" stroke-width="0.35">C</text>
<text x="1086.51" y="115.4" font-size="30.5" fill="#ef5350" textLength="84.00" lengthAdjust="spacingAndGlyphs" stroke="#ef5350" stroke-width="0.35">1.3536</text>
<text x="1190.08" y="115.4" font-size="30.5" fill="#ef5350" textLength="97.84" lengthAdjust="spacingAndGlyphs" stroke="#ef5350" stroke-width="0.35">−0.0031</text>
<text x="1300.36" y="115.4" font-size="30.5" fill="#ef5350" textLength="108.08" lengthAdjust="spacingAndGlyphs" stroke="#ef5350" stroke-width="0.35">(−0.23%)</text>
<text x="45.47" y="157.2" font-size="30.5" fill="#4c4c4c" textLength="42.92" lengthAdjust="spacingAndGlyphs" stroke="#4c4c4c" stroke-width="0.35">Vol</text>
<text x="93.62" y="157.2" font-size="30.5" fill="#4c4c4c" textLength="13.99" lengthAdjust="spacingAndGlyphs" stroke="#4c4c4c" stroke-width="0.35">·</text>
<text x="115.45" y="157.2" font-size="30.5" fill="#4c4c4c" textLength="52.29" lengthAdjust="spacingAndGlyphs" stroke="#4c4c4c" stroke-width="0.35">ARB</text>
<text x="187.31" y="157.2" font-size="30.5" fill="#ef5350" textLength="117.29" lengthAdjust="spacingAndGlyphs" stroke="#ef5350" stroke-width="0.35">124.604K</text>
<text x="45.47" y="241.3" font-size="30.5" fill="#4c4c4c" textLength="42.92" lengthAdjust="spacingAndGlyphs" stroke="#4c4c4c" stroke-width="0.35">Vol</text>
<text x="93.62" y="241.3" font-size="30.5" fill="#4c4c4c" textLength="13.99" lengthAdjust="spacingAndGlyphs" stroke="#4c4c4c" stroke-width="0.35">·</text>
<text x="115.45" y="241.3" font-size="30.5" fill="#4c4c4c" textLength="52.29" lengthAdjust="spacingAndGlyphs" stroke="#4c4c4c" stroke-width="0.35">ARB</text>
<text x="187.31" y="241.3" font-size="30.5" fill="#ef5350" textLength="117.29" lengthAdjust="spacingAndGlyphs" stroke="#ef5350" stroke-width="0.35">124.604K</text>
<text x="43.35" y="199.6" font-size="30.5" fill="#4c4c4c" textLength="59.40" lengthAdjust="spacingAndGlyphs" stroke="#4c4c4c" stroke-width="0.35">EMA</text>
<text x="111.25" y="199.6" font-size="30.5" fill="#4c4c4c" textLength="197.56" lengthAdjust="spacingAndGlyphs" stroke="#4c4c4c" stroke-width="0.35">20/50/100/200</text>
<text x="327.46" y="199.6" font-size="30.5" fill="#ff8a00" textLength="85.92" lengthAdjust="spacingAndGlyphs" stroke="#ff8a00" stroke-width="0.35">1.3265</text>
<text x="432.48" y="199.6" font-size="30.5" fill="#00f0ff" textLength="85.14" lengthAdjust="spacingAndGlyphs" stroke="#00f0ff" stroke-width="0.35">1.2963</text>
<text x="538.31" y="201.1" font-size="30.5" fill="#4c4c4c" textLength="27.47" lengthAdjust="spacingAndGlyphs" font-family="'DejaVu Sans', sans-serif">∅</text>
<text x="43.98" y="1324.5" font-size="30.5" fill="#4c4c4c" textLength="43.00" lengthAdjust="spacingAndGlyphs" stroke="#4c4c4c" stroke-width="0.35">RSI</text>
<text x="96.27" y="1324.5" font-size="30.5" fill="#4c4c4c" textLength="50.77" lengthAdjust="spacingAndGlyphs" stroke="#4c4c4c" stroke-width="0.35">(14,</text>
<text x="154.74" y="1324.5" font-size="30.5" fill="#4c4c4c" textLength="83.64" lengthAdjust="spacingAndGlyphs" stroke="#4c4c4c" stroke-width="0.35">close,</text>
<text x="246.61" y="1324.5" font-size="30.5" fill="#4c4c4c" textLength="69.44" lengthAdjust="spacingAndGlyphs" stroke="#4c4c4c" stroke-width="0.35">SMA,</text>
<text x="324.23" y="1324.5" font-size="30.5" fill="#4c4c4c" textLength="41.34" lengthAdjust="spacingAndGlyphs" stroke="#4c4c4c" stroke-width="0.35">14,</text>
<text x="374.92" y="1324.5" font-size="30.5" fill="#4c4c4c" textLength="26.21" lengthAdjust="spacingAndGlyphs" stroke="#4c4c4c" stroke-width="0.35">2)</text>
<text x="419.44" y="1324.5" font-size="30.5" fill="#9b45c7" textLength="71.98" lengthAdjust="spacingAndGlyphs" stroke="#9b45c7" stroke-width="0.35">48.60</text>
<text x="509.66" y="1324.5" font-size="30.5" fill="#cdf52a" textLength="71.03" lengthAdjust="spacingAndGlyphs" stroke="#cdf52a" stroke-width="0.35">61.35</text>
<text x="601.18" y="1326.0" font-size="30.5" fill="#4c4c4c" textLength="26.75" lengthAdjust="spacingAndGlyphs" font-family="'DejaVu Sans', sans-serif">∅</text>
<text x="649.19" y="1326.0" font-size="30.5" fill="#4c4c4c" textLength="27.72" lengthAdjust="spacingAndGlyphs" font-family="'DejaVu Sans', sans-serif">∅</text>
<text x="25.36" y="48.4" font-size="30.5" fill="#131722" textLength="191.65" lengthAdjust="spacingAndGlyphs" stroke="#131722" stroke-width="0.3">Jake_Simmons</text>
<text x="227.12" y="48.4" font-size="30.5" fill="#131722" textLength="131.77" lengthAdjust="spacingAndGlyphs" stroke="#131722" stroke-width="0.3">published</text>
<text x="369.69" y="48.4" font-size="30.5" fill="#131722" textLength="34.63" lengthAdjust="spacingAndGlyphs" stroke="#131722" stroke-width="0.3">on</text>
<text x="414.43" y="48.4" font-size="30.5" fill="#131722" textLength="239.36" lengthAdjust="spacingAndGlyphs" stroke="#131722" stroke-width="0.3">TradingView.com,</text>
<text x="661.07" y="48.4" font-size="30.5" fill="#131722" textLength="51.02" lengthAdjust="spacingAndGlyphs" stroke="#131722" stroke-width="0.3">Mar</text>
<text x="726.65" y="48.4" font-size="30.5" fill="#131722" textLength="38.44" lengthAdjust="spacingAndGlyphs" stroke="#131722" stroke-width="0.3">31,</text>
<text x="774.93" y="48.4" font-size="30.5" fill="#131722" textLength="60.77" lengthAdjust="spacingAndGlyphs" stroke="#131722" stroke-width="0.3">2023</text>
<text x="845.91" y="48.4" font-size="30.5" fill="#131722" textLength="70.13" lengthAdjust="spacingAndGlyphs" stroke="#131722" stroke-width="0.3">04:56</text>
<text x="924.86" y="48.4" font-size="30.5" fill="#131722" textLength="81.65" lengthAdjust="spacingAndGlyphs" stroke="#131722" stroke-width="0.3">UTC-4</text>
<path d="M25.4 1614.6H44.8V1638.8H35.2V1623.8H25.4z" fill="#131722"/>
<circle cx="52.6" cy="1619.6" r="5.3" fill="#131722"/>
<path d="M62.9 1614.6H73.3L63.3 1638.8H52.9z" fill="#131722"/>
<text x="82.08" y="1639.5" font-size="33.3" fill="#131722" textLength="177.34" lengthAdjust="spacingAndGlyphs" stroke="#131722" stroke-width="0.3">TradingView</text>
</svg>
</body></html>
